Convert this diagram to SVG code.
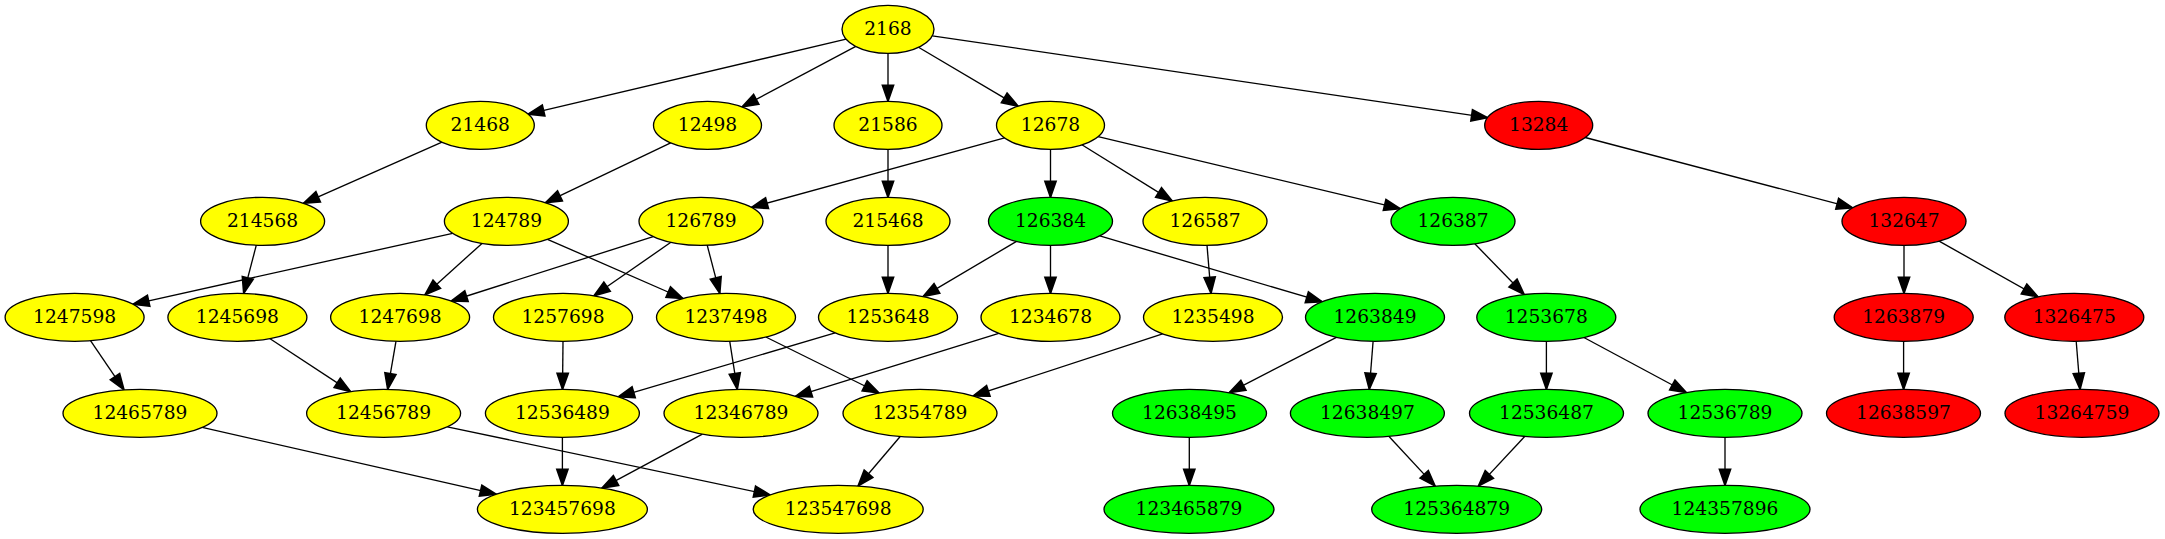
<svg xmlns="http://www.w3.org/2000/svg" width="2165" height="539" viewBox="0 0 2165 539">
<style>
.n ellipse{stroke:#000;stroke-width:1.33}
.y ellipse{fill:#ffff00}
.g ellipse{fill:#00ff00}
.r ellipse{fill:#ff0000}
.n text{font-family:"DejaVu Serif","Liberation Serif",serif;font-size:18.67px;text-anchor:middle;fill:#000}
#edges path{fill:none;stroke:#000;stroke-width:1.33;marker-end:url(#arr)}
</style>
<defs>
<marker id="arr" markerUnits="userSpaceOnUse" markerWidth="16" markerHeight="12" viewBox="0 0 13.33 9.33" refX="13.33" refY="4.67" orient="auto" style="overflow:visible">
<path d="M0,0 L13.33,4.67 L0,9.33 Z" fill="#000" stroke="#000" stroke-width="1.33"/>
</marker>
</defs>
<rect width="2165" height="539" fill="#fff"/>
<g id="edges">
<path d="M846.1,39.2 L528,114.1"/>
<path d="M855.8,46.4 L742.1,106.9"/>
<path d="M888,53.3 L888,101.3"/>
<path d="M918.5,47.3 L1018,106.1"/>
<path d="M932.3,35.8 L1487.5,117.7"/>
<path d="M442,142.2 L303.5,203.3"/>
<path d="M670.7,142.9 L545.5,202.7"/>
<path d="M888,149.3 L888,197.3"/>
<path d="M1004.6,137.9 L751.6,207.4"/>
<path d="M1050.5,149.3 L1050.5,197.3"/>
<path d="M1081.9,144.8 L1172.2,200.9"/>
<path d="M1098.1,136.6 L1400.2,208.7"/>
<path d="M1585.2,137.5 L1852.7,207.8"/>
<path d="M256.3,245.2 L243.7,293.4"/>
<path d="M452.6,233.3 L133,304.3"/>
<path d="M482,243.4 L424.9,294.9"/>
<path d="M547.5,239.3 L682.9,298.5"/>
<path d="M653.2,236.6 L451.2,301"/>
<path d="M670.9,242.3 L593.9,295.8"/>
<path d="M707.2,245.2 L719.8,293.4"/>
<path d="M888,245.3 L888,293.3"/>
<path d="M1016.5,241.4 L923.1,296.6"/>
<path d="M1050.5,245.3 L1050.5,293.3"/>
<path d="M1099.8,235.9 L1322.2,301.7"/>
<path d="M1207,245.3 L1211,293.3"/>
<path d="M1474.8,243.8 L1524.2,294.5"/>
<path d="M1904,245.3 L1904,293.3"/>
<path d="M1939.1,241.1 L2038,296.8"/>
<path d="M90.5,340.7 L124,389.8"/>
<path d="M269.7,338.5 L350.6,391.6"/>
<path d="M396,341.2 L387.7,389.4"/>
<path d="M563,341.3 L562.5,389.3"/>
<path d="M729.7,341.2 L737.3,389.4"/>
<path d="M765.8,337 L879,393"/>
<path d="M835.1,332.9 L618.3,396.8"/>
<path d="M998.8,333.3 L795.6,396.4"/>
<path d="M1162.6,333.8 L973.1,395.9"/>
<path d="M1336.4,337.3 L1229.2,392.7"/>
<path d="M1373.1,341.3 L1369.3,389.3"/>
<path d="M1546.4,341.3 L1546.4,389.3"/>
<path d="M1583.9,337.5 L1686.4,392.5"/>
<path d="M1903.6,341.3 L1903.6,389.3"/>
<path d="M2076.2,341.3 L2080.1,389.3"/>
<path d="M202.2,427.4 L496.2,494.2"/>
<path d="M447.3,426.8 L770.1,494.9"/>
<path d="M562.4,437.3 L562.4,485.3"/>
<path d="M702.4,434.1 L601.9,488.1"/>
<path d="M900.2,436.5 L858.1,486"/>
<path d="M1189.3,437.3 L1189.3,485.3"/>
<path d="M1388.8,436.3 L1435.1,486.1"/>
<path d="M1524.9,436.3 L1478.4,486.1"/>
<path d="M1725,437.3 L1725,485.3"/>
</g>
<g id="n2168" class="n y"><ellipse cx="888" cy="29.33" rx="46" ry="24"/><text x="888" y="34.93">2168</text></g>
<g id="n21468" class="n y"><ellipse cx="480.3" cy="125.33" rx="54" ry="24"/><text x="480.3" y="130.93">21468</text></g>
<g id="n12498" class="n y"><ellipse cx="707.5" cy="125.33" rx="54" ry="24"/><text x="707.5" y="130.93">12498</text></g>
<g id="n21586" class="n y"><ellipse cx="888" cy="125.33" rx="54" ry="24"/><text x="888" y="130.93">21586</text></g>
<g id="n12678" class="n y"><ellipse cx="1050.5" cy="125.33" rx="54" ry="24"/><text x="1050.5" y="130.93">12678</text></g>
<g id="n13284" class="n r"><ellipse cx="1538.7" cy="125.33" rx="54" ry="24"/><text x="1538.7" y="130.93">13284</text></g>
<g id="n214568" class="n y"><ellipse cx="262.6" cy="221.33" rx="62" ry="24"/><text x="262.6" y="226.93">214568</text></g>
<g id="n124789" class="n y"><ellipse cx="506.4" cy="221.33" rx="62" ry="24"/><text x="506.4" y="226.93">124789</text></g>
<g id="n126789" class="n y"><ellipse cx="701" cy="221.33" rx="62" ry="24"/><text x="701" y="226.93">126789</text></g>
<g id="n215468" class="n y"><ellipse cx="888" cy="221.33" rx="62" ry="24"/><text x="888" y="226.93">215468</text></g>
<g id="n126384" class="n g"><ellipse cx="1050.5" cy="221.33" rx="62" ry="24"/><text x="1050.5" y="226.93">126384</text></g>
<g id="n126587" class="n y"><ellipse cx="1205" cy="221.33" rx="62" ry="24"/><text x="1205" y="226.93">126587</text></g>
<g id="n126387" class="n g"><ellipse cx="1453" cy="221.33" rx="62" ry="24"/><text x="1453" y="226.93">126387</text></g>
<g id="n132647" class="n r"><ellipse cx="1904" cy="221.33" rx="62" ry="24"/><text x="1904" y="226.93">132647</text></g>
<g id="n1247598" class="n y"><ellipse cx="74.6" cy="317.33" rx="69.5" ry="24"/><text x="74.6" y="322.93">1247598</text></g>
<g id="n1245698" class="n y"><ellipse cx="237.4" cy="317.33" rx="69.5" ry="24"/><text x="237.4" y="322.93">1245698</text></g>
<g id="n1247698" class="n y"><ellipse cx="400.1" cy="317.33" rx="69.5" ry="24"/><text x="400.1" y="322.93">1247698</text></g>
<g id="n1257698" class="n y"><ellipse cx="563" cy="317.33" rx="69.5" ry="24"/><text x="563" y="322.93">1257698</text></g>
<g id="n1237498" class="n y"><ellipse cx="726" cy="317.33" rx="69.5" ry="24"/><text x="726" y="322.93">1237498</text></g>
<g id="n1253648" class="n y"><ellipse cx="888" cy="317.33" rx="69.5" ry="24"/><text x="888" y="322.93">1253648</text></g>
<g id="n1234678" class="n y"><ellipse cx="1050.5" cy="317.33" rx="69.5" ry="24"/><text x="1050.5" y="322.93">1234678</text></g>
<g id="n1235498" class="n y"><ellipse cx="1213" cy="317.33" rx="69.5" ry="24"/><text x="1213" y="322.93">1235498</text></g>
<g id="n1263849" class="n g"><ellipse cx="1375" cy="317.33" rx="69.5" ry="24"/><text x="1375" y="322.93">1263849</text></g>
<g id="n1253678" class="n g"><ellipse cx="1546.3" cy="317.33" rx="69.5" ry="24"/><text x="1546.3" y="322.93">1253678</text></g>
<g id="n1263879" class="n r"><ellipse cx="1903.7" cy="317.33" rx="69.5" ry="24"/><text x="1903.7" y="322.93">1263879</text></g>
<g id="n1326475" class="n r"><ellipse cx="2074.3" cy="317.33" rx="69.5" ry="24"/><text x="2074.3" y="322.93">1326475</text></g>
<g id="n12465789" class="n y"><ellipse cx="140" cy="413.33" rx="77" ry="24"/><text x="140" y="418.93">12465789</text></g>
<g id="n12456789" class="n y"><ellipse cx="383.6" cy="413.33" rx="77" ry="24"/><text x="383.6" y="418.93">12456789</text></g>
<g id="n12536489" class="n y"><ellipse cx="562.4" cy="413.33" rx="77" ry="24"/><text x="562.4" y="418.93">12536489</text></g>
<g id="n12346789" class="n y"><ellipse cx="741" cy="413.33" rx="77" ry="24"/><text x="741" y="418.93">12346789</text></g>
<g id="n12354789" class="n y"><ellipse cx="920" cy="413.33" rx="77" ry="24"/><text x="920" y="418.93">12354789</text></g>
<g id="n12638495" class="n g"><ellipse cx="1189.5" cy="413.33" rx="77" ry="24"/><text x="1189.5" y="418.93">12638495</text></g>
<g id="n12638497" class="n g"><ellipse cx="1367.4" cy="413.33" rx="77" ry="24"/><text x="1367.4" y="418.93">12638497</text></g>
<g id="n12536487" class="n g"><ellipse cx="1546.5" cy="413.33" rx="77" ry="24"/><text x="1546.5" y="418.93">12536487</text></g>
<g id="n12536789" class="n g"><ellipse cx="1725" cy="413.33" rx="77" ry="24"/><text x="1725" y="418.93">12536789</text></g>
<g id="n12638597" class="n r"><ellipse cx="1903.5" cy="413.33" rx="77" ry="24"/><text x="1903.5" y="418.93">12638597</text></g>
<g id="n13264759" class="n r"><ellipse cx="2082" cy="413.33" rx="77" ry="24"/><text x="2082" y="418.93">13264759</text></g>
<g id="n123457698" class="n y"><ellipse cx="562.4" cy="509.33" rx="85" ry="24"/><text x="562.4" y="514.93">123457698</text></g>
<g id="n123547698" class="n y"><ellipse cx="838.2" cy="509.33" rx="85" ry="24"/><text x="838.2" y="514.93">123547698</text></g>
<g id="n123465879" class="n g"><ellipse cx="1189" cy="509.33" rx="85" ry="24"/><text x="1189" y="514.93">123465879</text></g>
<g id="n125364879" class="n g"><ellipse cx="1456.7" cy="509.33" rx="85" ry="24"/><text x="1456.7" y="514.93">125364879</text></g>
<g id="n124357896" class="n g"><ellipse cx="1725" cy="509.33" rx="85" ry="24"/><text x="1725" y="514.93">124357896</text></g>
</svg>
